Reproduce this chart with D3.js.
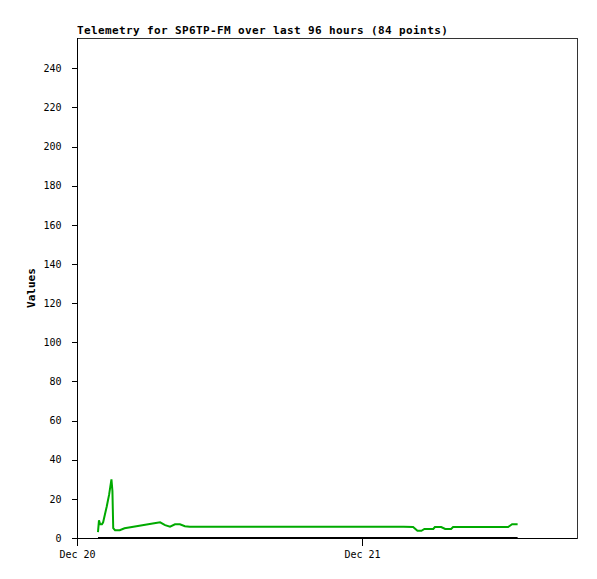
<!DOCTYPE html>
<html>
<head>
<meta charset="utf-8">
<script src="https://cdn.jsdelivr.net/npm/d3@7"></script>
<style>
  body { margin: 0; background: #fff; }
  #vis { width: 597px; height: 579px; }
  .axis text { font-family: "DejaVu Sans Mono", monospace; font-size: 10px; fill: #000; }
  .axis path, .axis line { stroke: #000; shape-rendering: crispEdges; }
</style>
</head>
<body>
<div id="vis"></div>
<script>
var titleText = "Telemetry for SP6TP-FM over last 96 hours (84 points)";
var yTicks = [0, 20, 40, 60, 80, 100, 120, 140, 160, 180, 200, 220, 240];
var xStart = "2023-12-20 00:00";
var xEnd = "2023-12-21 18:06";

// sample times and values of the green series
var times = [
    "2023-12-20 01:46", "2023-12-20 01:51", "2023-12-20 01:57", "2023-12-20 02:06",
    "2023-12-20 02:12", "2023-12-20 02:21", "2023-12-20 02:30", "2023-12-20 02:36",
    "2023-12-20 02:42", "2023-12-20 02:48", "2023-12-20 02:54", "2023-12-20 02:59",
    "2023-12-20 03:03", "2023-12-20 03:12", "2023-12-20 03:36", "2023-12-20 04:00",
    "2023-12-20 04:30", "2023-12-20 05:00", "2023-12-20 05:30", "2023-12-20 06:00",
    "2023-12-20 06:30", "2023-12-20 07:00", "2023-12-20 07:25", "2023-12-20 07:50",
    "2023-12-20 08:15", "2023-12-20 08:40", "2023-12-20 09:05", "2023-12-20 09:30",
    "2023-12-20 10:00", "2023-12-20 10:30", "2023-12-20 11:00", "2023-12-20 11:30",
    "2023-12-20 12:00", "2023-12-20 12:30", "2023-12-20 13:00", "2023-12-20 13:30",
    "2023-12-20 14:00", "2023-12-20 14:30", "2023-12-20 15:00", "2023-12-20 15:30",
    "2023-12-20 16:00", "2023-12-20 16:30", "2023-12-20 17:00", "2023-12-20 17:30",
    "2023-12-20 18:00", "2023-12-20 18:30", "2023-12-20 19:00", "2023-12-20 19:30",
    "2023-12-20 20:00", "2023-12-20 20:30", "2023-12-20 21:00", "2023-12-20 21:30",
    "2023-12-20 22:00", "2023-12-20 22:30", "2023-12-20 23:00", "2023-12-20 23:30",
    "2023-12-21 00:00", "2023-12-21 00:30", "2023-12-21 01:00", "2023-12-21 01:30",
    "2023-12-21 02:00", "2023-12-21 02:30", "2023-12-21 03:00", "2023-12-21 03:30",
    "2023-12-21 04:18", "2023-12-21 04:40", "2023-12-21 05:00", "2023-12-21 05:15",
    "2023-12-21 05:40", "2023-12-21 06:00", "2023-12-21 06:08", "2023-12-21 06:40",
    "2023-12-21 07:00", "2023-12-21 07:30", "2023-12-21 07:40", "2023-12-21 08:00",
    "2023-12-21 08:30", "2023-12-21 09:00", "2023-12-21 09:30", "2023-12-21 10:30",
    "2023-12-21 11:30", "2023-12-21 12:18", "2023-12-21 12:38", "2023-12-21 13:06"
];
var values = [
    3, 9, 7, 7,
    8, 12, 16, 19,
    22, 26, 30, 24,
    5, 4, 4, 5,
    5.5, 6, 6.5, 7,
    7.5, 8, 6.6, 5.8,
    7, 7, 6, 5.8,
    5.8, 5.8, 5.8, 5.8,
    5.8, 5.8, 5.8, 5.8,
    5.8, 5.8, 5.8, 5.8,
    5.8, 5.8, 5.8, 5.8,
    5.8, 5.8, 5.8, 5.8,
    5.8, 5.8, 5.8, 5.8,
    5.8, 5.8, 5.8, 5.8,
    5.8, 5.8, 5.8, 5.8,
    5.8, 5.8, 5.8, 5.8,
    5.6, 3.7, 3.7, 4.6,
    4.6, 4.6, 5.6, 5.6,
    4.6, 4.6, 5.6, 5.6,
    5.6, 5.6, 5.6, 5.6,
    5.6, 5.6, 7, 7
];
// second (black) series sits at zero across the same times
var zeroValues = [0];

var width = 597;
var height = 579;

var margin = {
    top: 38,
    left: 77,
    right: 20,
    bottom: 41
};

var parse = d3.timeParse("%Y-%m-%d %H:%M");

var svg = d3.select("#vis")
    .append("svg")
    .attr("width", width)
    .attr("height", height);

var w = width - margin.left - margin.right;
var h = height - margin.top - margin.bottom;

var g = svg.append("g")
    .attr("transform", "translate(" + margin.left + "," + margin.top + ")");

var xscale = d3.scaleTime()
    .domain([parse(xStart), parse(xEnd)])
    .range([0, w]);

var yscale = d3.scaleLinear()
    .domain([0, 255.5])
    .range([h, 0]);

// frame
g.append("rect")
    .attr("x", 0.5)
    .attr("y", 0.5)
    .attr("width", w)
    .attr("height", h)
    .attr("fill", "none")
    .attr("stroke", "#333")
    .attr("shape-rendering", "crispEdges");

var yaxis = d3.axisLeft(yscale)
    .tickValues(yTicks)
    .tickSize(6)
    .tickPadding(10);

var xaxis = d3.axisBottom(xscale)
    .ticks(d3.timeDay.every(1))
    .tickFormat(d3.timeFormat("%b %d"))
    .tickSize(7)
    .tickPadding(5)
    .tickSizeOuter(0);

g.append("g")
    .attr("class", "y axis")
    .attr("transform", "translate(0.5,0)")
    .call(yaxis)
    .call(function(s) { s.select(".domain").attr("d", "M0,0V" + h); });

g.append("g")
    .attr("class", "x axis")
    .attr("transform", "translate(0," + (h + 0.5) + ")")
    .call(xaxis)
    .call(function(s) { s.select(".domain").attr("d", "M0,0H" + w); });

var pts = times.map(function(t, i) {
    return { t: parse(t), v: values[i] };
});

var line = d3.line()
    .x(function(d) { return xscale(d.t); })
    .y(function(d) { return yscale(d.v); });

g.append("path")
    .datum(pts.map(function(d) { return { t: d.t, v: zeroValues[0] }; }))
    .attr("fill", "none")
    .attr("stroke", "#000")
    .attr("stroke-width", 2)
    .attr("d", line);

g.append("path")
    .datum(pts)
    .attr("fill", "none")
    .attr("stroke", "#00aa00")
    .attr("stroke-width", 2)
    .attr("d", line);

svg.append("text")
    .attr("x", margin.left)
    .attr("y", 34)
    .style("font-family", "'DejaVu Sans Mono', monospace")
    .style("font-weight", "bold")
    .style("font-size", "11px")
    .style("letter-spacing", "0.38px")
    .text(titleText);

svg.append("text")
    .attr("transform", "rotate(-90)")
    .attr("x", -(margin.top + h / 2))
    .attr("y", 35)
    .style("text-anchor", "middle")
    .style("font-family", "'DejaVu Sans Mono', monospace")
    .style("font-weight", "bold")
    .style("font-size", "11px")
    .text("Values");
</script>
</body>
</html>
